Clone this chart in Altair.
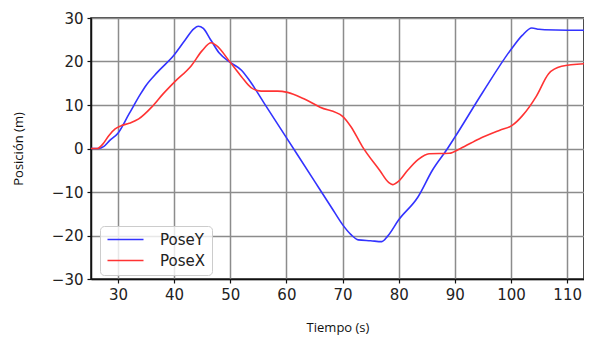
import altair as alt
import pandas as pd

# PoseY (blue) samples: time (s), position (m)
t_y = [25.2, 26.5, 27.5, 28.5, 30, 32, 34, 35, 37, 40, 42, 43.5, 44.3, 45.2, 46.5, 48, 50, 52,
       53.5, 56, 60, 62, 65, 68, 70, 71.5, 72.8, 75, 77, 78, 80, 83.4, 86, 88.7, 90, 95,
       100.3, 102, 103.7, 105, 106, 110, 113]
pose_y = [0, 0, 0.5, 1.8, 3.5, 8, 12.5, 14.5, 17.5, 21.5, 25, 27.5, 28.1, 27.6, 25, 22, 19.8, 18,
          15.5, 10.5, 2.5, -1.5, -7.5, -13.5, -17.5, -19.8, -21, -21.2, -21.4, -20.2, -16.4, -11.2,
          -5, 0, 2.6, 13, 23.3, 26, 27.7, 27.4, 27.3, 27.2, 27.2]

# PoseX (red) samples
t_x = [25.2, 26.3, 27.3, 28.4, 29.5, 30.5, 32, 33.7, 36, 38, 40, 43.1, 45, 46.6, 47.5, 50, 52,
       53.7, 55.5, 58.4, 60.2, 63, 66, 70, 71.5, 73.5, 76.6, 78.2, 78.9, 80, 81.6, 83.5, 85.4,
       89, 91, 94.3, 98, 100.2, 102, 104.5, 106.7, 109, 113]
pose_x = [0, 0, 1, 3, 4.5, 5.2, 5.8, 6.8, 9.5, 12.5, 15.2, 19.1, 22.5, 24.3, 23.7, 19.8, 16.5,
          14, 13.2, 13.2, 12.9, 11.5, 9.5, 7.4, 5, 0.5, -5, -7.8, -8.3, -7.5, -5, -2.5, -1.2,
          -1.1, 0, 2.2, 4.2, 5.3, 7.5, 12, 17.2, 18.9, 19.5]

x_ticks = [30, 40, 50, 60, 70, 80, 90, 100, 110]
y_ticks = [-30, -20, -10, 0, 10, 20, 30]
series = ["PoseY", "PoseX"]
colors = ["#3333ff", "#ff3333"]

df = pd.concat([
    pd.DataFrame({"t": t_y, "v": pose_y, "s": "PoseY", "o": range(len(t_y))}),
    pd.DataFrame({"t": t_x, "v": pose_x, "s": "PoseX", "o": range(len(t_x))}),
])

chart = alt.Chart(df).mark_line(interpolate="monotone", strokeWidth=1.6).encode(
    x=alt.X("t:Q", scale=alt.Scale(domain=[25.2, 113], nice=False, zero=False),
            axis=alt.Axis(values=x_ticks, title="Tiempo (s)", titleY=48, titleBaseline="middle")),
    y=alt.Y("v:Q", scale=alt.Scale(domain=[-30, 30], nice=False),
            axis=alt.Axis(values=y_ticks, title="Posición (m)", titleX=-73, titleBaseline="middle")),
    color=alt.Color("s:N", scale=alt.Scale(domain=series, range=colors),
                    sort=series,
                    legend=alt.Legend(title=None, orient="none", legendX=9, legendY=208,
                                      symbolType="M-1,0H5", symbolSize=144, symbolStrokeWidth=1.5,
                                      labelFont="DejaVu Sans", labelFontSize=15, labelColor="#222222",
                                      labelOffset=39, rowPadding=5, padding=6,
                                      fillColor="rgba(255,255,255,0.8)", strokeColor="#cccccc",
                                      cornerRadius=4)),
    order="o:Q",
).properties(
    width=493, height=261,
    autosize=alt.AutoSizeParams(type="none"),
    padding={"left": 83, "top": 10, "right": 0, "bottom": 58},
).configure_view(
    stroke="#111111", strokeWidth=1.5
).configure_axis(
    grid=True, gridColor="#8c8c8c", gridWidth=1.5, gridOpacity=1,
    domainColor="#111111", domainWidth=1.5,
    tickColor="#111111", tickSize=4, tickWidth=1.2,
    labelFont="DejaVu Sans", labelFontSize=15, labelColor="#222222", labelPadding=4,
    titleFont="Open Sans", titleFontSize=13, titleFontWeight="normal", titleColor="#111111",
)

chart.save("out.html", embed_options={"renderer": "svg", "actions": False})
